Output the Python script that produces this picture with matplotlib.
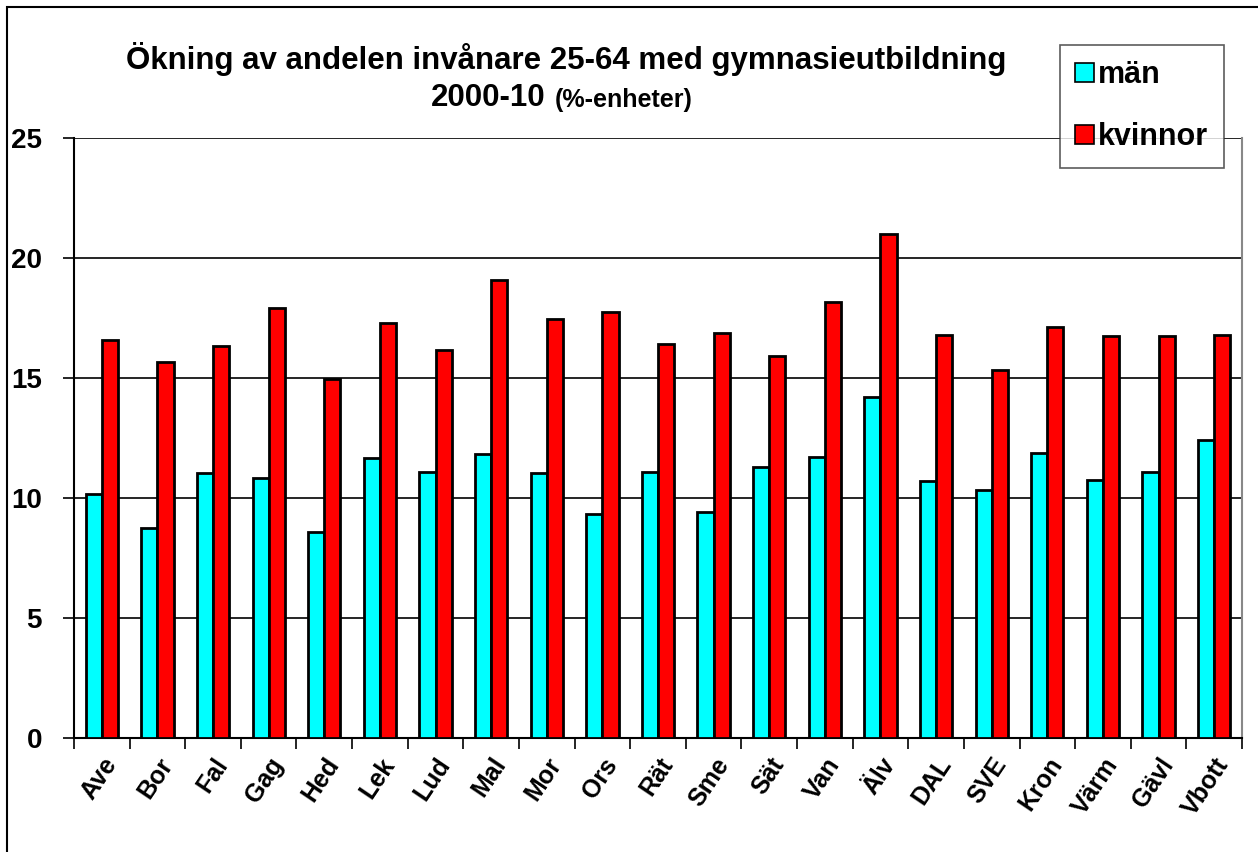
import numpy as np
import matplotlib.pyplot as plt
from matplotlib.patches import Rectangle

plt.rcParams['font.family'] = ['Liberation Sans', 'DejaVu Sans']
plt.rcParams['font.weight'] = 'bold'

regions = ["Ave", "Bor", "Fal", "Gag", "Hed", "Lek", "Lud", "Mal", "Mor", "Ors", "Rät",
           "Sme", "Sät", "Van", "Älv", "DAL", "SVE", "Kron", "Värm", "Gävl", "Vbott"]
man = [10.18, 8.74, 11.03, 10.82, 8.58, 11.68, 11.07, 11.83, 11.04, 9.33, 11.08,
       9.42, 11.29, 11.71, 14.21, 10.71, 10.33, 11.88, 10.75, 11.08, 12.42]
kvinnor = [16.58, 15.68, 16.33, 17.93, 14.97, 17.28, 16.15, 19.08, 17.46, 17.75, 16.42,
           16.88, 15.92, 18.17, 21.0, 16.79, 15.33, 17.13, 16.75, 16.75, 16.79]

fig = plt.figure(figsize=(12.58, 8.52), dpi=100)
ax = fig.add_axes([74 / 1258, 1 - 738 / 852, (1242 - 74) / 1258, (738 - 138) / 852])

x = np.arange(len(regions))
w = 0.29
ax.bar(x - w / 2, man, w, color='#00FFFF', edgecolor='black', linewidth=2, label='män', zorder=3)
ax.bar(x + w / 2, kvinnor, w, color='#FF0000', edgecolor='black', linewidth=2, label='kvinnor', zorder=3)

ax.set_xlim(-0.5, len(regions) - 0.5)
ax.set_ylim(0, 25)
ax.set_yticks([0, 5, 10, 15, 20, 25])
ax.set_yticklabels(['0', '5', '10', '15', '20', '25'], fontsize=20, fontweight='bold')
ax.yaxis.grid(True, color='black', linewidth=1.2, zorder=0)
ax.tick_params(axis='y', direction='out', length=8, width=1.2, pad=15)

# ticks between categories, labels at the centres
ax.set_xticks(np.arange(len(regions) + 1) - 0.5)
ax.set_xticklabels([])
ax.set_xticks(x, minor=True)
ax.set_xticklabels(regions, minor=True, rotation=56, ha='right', va='top',
                   rotation_mode='anchor', fontsize=18, fontweight='bold')
ax.tick_params(axis='x', which='major', direction='out', length=8, width=1.2)
ax.tick_params(axis='x', which='minor', length=0, pad=11)

ax.spines['top'].set_visible(False)
ax.spines['right'].set_color('#888888')
ax.spines['right'].set_linewidth(1.5)
ax.spines['left'].set_linewidth(1.5)
ax.spines['bottom'].set_linewidth(1.5)

fig.text(566 / 1258, 1 - 59 / 852, "Ökning av andelen invånare 25-64 med gymnasieutbildning",
         ha='center', va='center', fontsize=22.5, fontweight='bold')
fig.text(546 / 1258, 1 - 98 / 852, "2000-10", ha='right', va='center', fontsize=22.5, fontweight='bold')
fig.text(555 / 1258, 1 - 100 / 852, "(%-enheter)", ha='left', va='center', fontsize=18, fontweight='bold')

leg = fig.legend(loc='upper left', bbox_to_anchor=(1060 / 1258, 1 - 45 / 852),
                 prop={'weight': 'bold', 'size': 22}, frameon=True, fancybox=False,
                 edgecolor='#333333', handlelength=0.6, handleheight=0.6, handletextpad=0.15,
                 labelspacing=1.05, borderpad=0.5, borderaxespad=0)
leg.get_frame().set_linewidth(1.2)
for h in leg.legend_handles:
    h.set_linewidth(1.2)

fig.patches.append(Rectangle((7 / 1258, -0.01), 1.1, 1 - 7 / 852 + 0.01, transform=fig.transFigure,
                             fill=False, edgecolor='black', linewidth=1.5))

fig.savefig('out.png', dpi=100)
